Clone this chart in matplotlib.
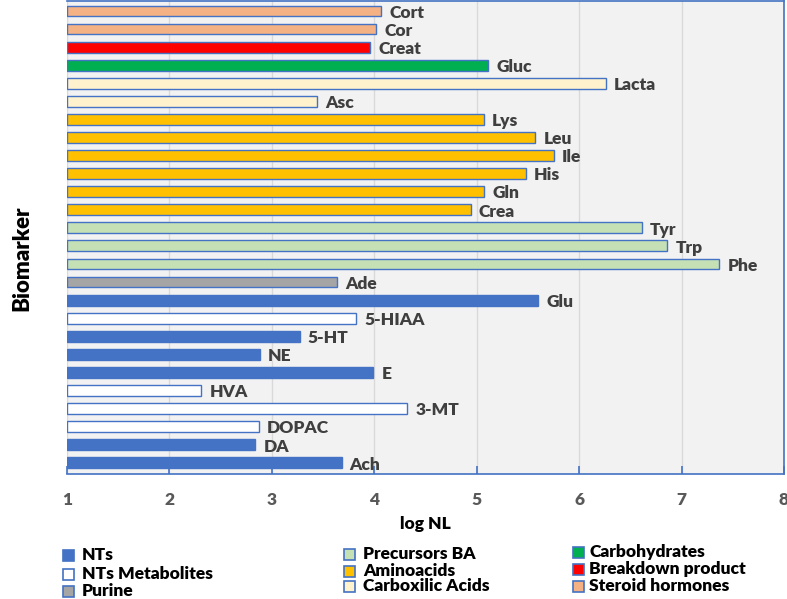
import numpy as np
import matplotlib
matplotlib.use('Agg')
import matplotlib.pyplot as plt
from matplotlib.patches import Rectangle

# data, bottom to top
names = ['Ach', 'DA', 'DOPAC', '3-MT', 'HVA', 'E', 'NE', '5-HT', '5-HIAA', 'Glu',
         'Ade', 'Phe', 'Trp', 'Tyr', 'Crea', 'Gln', 'His', 'Ile', 'Leu', 'Lys',
         'Asc', 'Lacta', 'Gluc', 'Creat', 'Cor', 'Cort']
values = [3.68, 2.84, 2.87, 4.32, 2.31, 3.99, 2.88, 3.27, 3.82, 5.60,
          3.64, 7.37, 6.86, 6.61, 4.94, 5.07, 5.48, 5.75, 5.57, 5.07,
          3.44, 6.26, 5.11, 3.96, 4.02, 4.07]
groups = ['NTs', 'NTs', 'NTs Metabolites', 'NTs Metabolites', 'NTs Metabolites', 'NTs', 'NTs', 'NTs',
          'NTs Metabolites', 'NTs', 'Purine', 'Precursors BA', 'Precursors BA', 'Precursors BA',
          'Aminoacids', 'Aminoacids', 'Aminoacids', 'Aminoacids', 'Aminoacids', 'Aminoacids',
          'Carboxilic Acids', 'Carboxilic Acids', 'Carbohydrates', 'Breakdown product',
          'Steroid hormones', 'Steroid hormones']

group_colors = {
    'NTs': '#4472C4',
    'NTs Metabolites': '#FFFFFF',
    'Purine': '#A5A5A5',
    'Precursors BA': '#C5E0B4',
    'Aminoacids': '#FFC000',
    'Carboxilic Acids': '#FFF2CC',
    'Carbohydrates': '#00B050',
    'Breakdown product': '#FF0000',
    'Steroid hormones': '#F4B183',
}
legend_cols = [['NTs', 'NTs Metabolites', 'Purine'],
               ['Precursors BA', 'Aminoacids', 'Carboxilic Acids'],
               ['Carbohydrates', 'Breakdown product', 'Steroid hormones']]

plt.rcParams['font.family'] = ['Lato', 'DejaVu Sans']
edge = '#4472C4'
wt = 'heavy'

fig = plt.figure(figsize=(7.87, 5.99), dpi=100)
W, H = 787, 599
ax = fig.add_axes([67 / W, 1 - 474 / H, (784 - 67) / W, 473 / H])
ax.set_facecolor('#F2F2F2')

y = np.arange(len(names))
cols = [group_colors[g] for g in groups]
ax.barh(y, np.array(values) - 1, left=1, height=0.6, color=cols, edgecolor=edge, linewidth=1, zorder=3)
for yi, v, n in zip(y, values, names):
    ax.text(v + 0.08, yi - 0.1, n, va='center', ha='left', fontsize=12.5, fontweight=wt,
            color='#3F3F3F', zorder=4)

ax.set_xlim(1, 8)
ax.set_ylim(-0.62, len(names) - 0.45)
ax.set_xticks(range(1, 9))
ax.set_yticks([])
ax.grid(axis='x', color='#D9D9D9', linewidth=1, zorder=0)
ax.tick_params(axis='x', direction='in', length=6, color=edge, width=1.2, pad=13,
               labelsize=12.5, labelcolor='#595959')
for lab in ax.get_xticklabels():
    lab.set_fontweight(wt)
ax.spines['left'].set_visible(False)
for s in ['top', 'right', 'bottom']:
    ax.spines[s].set_color(edge)
    ax.spines[s].set_linewidth(1.2)

fig.text(425 / W, 1 - 524 / H, 'log NL', ha='center', va='center', fontsize=12.5, fontweight=wt)
fig.text(22 / W, 1 - 258 / H, 'Biomarker', ha='center', va='center', rotation=90,
         fontsize=16, fontweight=wt)

# legend drawn by hand
col_x = [(63, 82), (344, 363), (573, 589)]
row_y = [[555, 574, 591], [554, 571, 586], [552, 569, 586]]
for (sx, tx), ys, labels in zip(col_x, row_y, legend_cols):
    for yy, lab in zip(ys, labels):
        fig.patches.append(Rectangle((sx / W, 1 - (yy + 5.5) / H), 11 / W, 11 / H,
                                     transform=fig.transFigure, facecolor=group_colors[lab],
                                     edgecolor=edge, linewidth=1.2))
        fig.text(tx / W, 1 - yy / H, lab, ha='left', va='center', fontsize=12.5,
                 fontweight=wt, color='black')

fig.savefig('out.png', dpi=100)
